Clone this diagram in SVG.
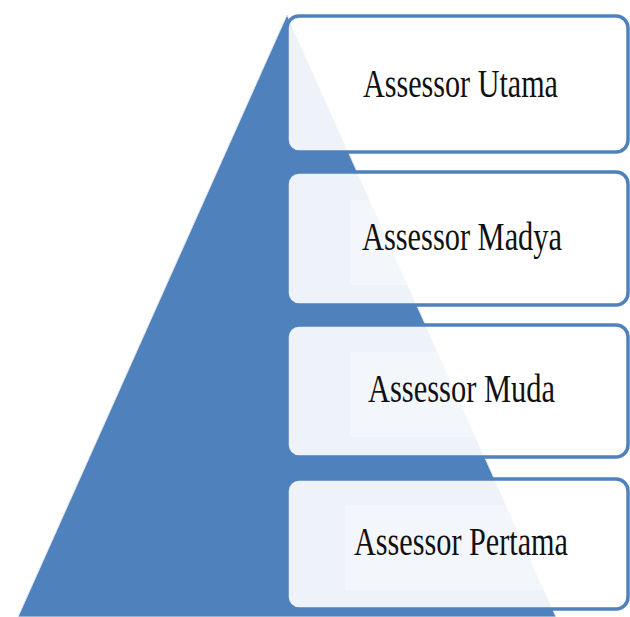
<svg xmlns="http://www.w3.org/2000/svg" width="630" height="617" viewBox="0 0 630 617">
<style>
.box{fill:#ffffff;fill-opacity:0.9;stroke:#4F81BD;stroke-width:3.5}
.tbg{fill:#ffffff;fill-opacity:0.3}
.lbl{font-family:"Liberation Serif","Times New Roman",serif;font-size:40px;fill:#111111;text-anchor:start}
</style>
<rect width="630" height="617" fill="#ffffff"/>
<g id="pyramid">
<polygon points="287,15 18,617 556,617" fill="#4F81BD" stroke="#D9E2EE" stroke-width="1"/>
</g>
<g id="connectors"></g>
<g id="node-utama">
<rect class="box" x="287" y="16" width="341" height="136" rx="12"/>
<rect class="tbg" x="345" y="47" width="230" height="85"/>
<text class="lbl" x="363" y="97" textLength="195" lengthAdjust="spacingAndGlyphs">Assessor Utama</text>
</g>
<g id="node-madya">
<rect class="box" x="287" y="172" width="341" height="133" rx="12"/>
<rect class="tbg" x="350" y="200" width="230" height="85"/>
<text class="lbl" x="362" y="250" textLength="200" lengthAdjust="spacingAndGlyphs">Assessor Madya</text>
</g>
<g id="node-muda">
<rect class="box" x="287" y="325" width="341" height="132" rx="12"/>
<rect class="tbg" x="350" y="352" width="230" height="85"/>
<text class="lbl" x="368" y="402" textLength="187" lengthAdjust="spacingAndGlyphs">Assessor Muda</text>
</g>
<g id="node-pertama">
<rect class="box" x="287" y="479" width="341" height="130" rx="12"/>
<rect class="tbg" x="345" y="505" width="235" height="85"/>
<text class="lbl" x="354" y="555" textLength="214" lengthAdjust="spacingAndGlyphs">Assessor Pertama</text>
</g>
</svg>
